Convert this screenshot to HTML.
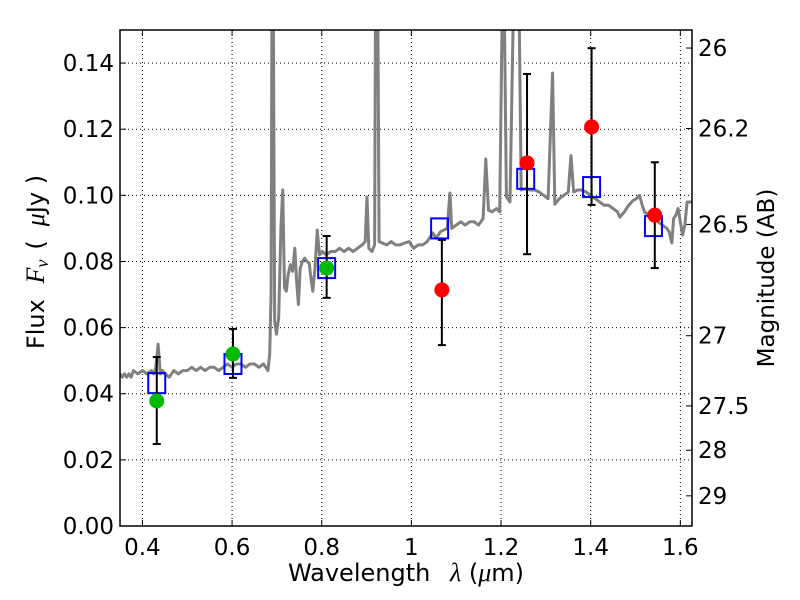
<!DOCTYPE html>
<html><head><meta charset="utf-8"><style>
body{margin:0;background:#fff}
svg{display:block;font-family:"DejaVu Sans","Liberation Sans",sans-serif}
</style></head><body>
<svg id="c" width="800" height="600">
<defs><clipPath id="clip"><rect x="120" y="30" width="572" height="496"/></clipPath></defs>
</svg>
<script>
const specWave=[
0.35,0.355,0.36,0.365,0.37,0.375,0.38,0.39,0.40,0.41,
0.42,0.425,0.43,0.435,0.44,0.445,0.45,0.46,0.47,0.48,
0.49,0.50,0.51,0.52,0.53,0.54,0.55,0.56,0.57,0.58,
0.59,0.60,0.61,0.62,0.63,0.64,0.65,0.66,0.67,0.675,
0.680,0.684,0.687,0.689,0.692,0.695,0.699,0.704,0.709,0.713,
0.717,0.721,0.725,0.730,0.735,0.740,0.744,0.748,0.752,0.757,
0.762,0.767,0.772,0.776,0.780,0.785,0.790,0.795,0.802,0.810,
0.820,0.830,0.840,0.850,0.860,0.870,0.880,0.890,0.897,0.901,
0.905,0.912,0.918,0.920,0.925,0.928,0.935,0.945,0.955,0.965,
0.975,0.985,0.995,1.005,1.015,1.025,1.035,1.048,1.055,1.065,
1.080,1.086,1.090,1.100,1.110,1.120,1.130,1.140,1.150,1.160,
1.166,1.172,1.180,1.190,1.197,1.203,1.207,1.212,1.220,1.228,
1.232,1.236,1.240,1.245,1.255,1.265,1.275,1.285,1.295,1.305,
1.315,1.320,1.330,1.340,1.350,1.356,1.362,1.370,1.380,1.390,
1.400,1.410,1.420,1.430,1.440,1.450,1.460,1.465,1.475,1.485,
1.495,1.502,1.509,1.515,1.520,1.530,1.540,1.550,1.560,1.570,
1.575,1.581,1.585,1.590,1.595,1.600,1.605,1.610,1.615,1.625,
1.635];
const specFlux=[
0.046,0.045,0.046,0.045,0.046,0.045,0.047,0.046,0.047,0.046,
0.047,0.046,0.048,0.055,0.046,0.047,0.046,0.045,0.047,0.046,
0.047,0.047,0.048,0.047,0.048,0.047,0.048,0.048,0.047,0.048,
0.049,0.048,0.049,0.049,0.048,0.049,0.049,0.048,0.049,0.048,
0.047,0.052,0.070,0.16,0.16,0.062,0.058,0.063,0.090,0.1016,
0.072,0.071,0.076,0.079,0.077,0.084,0.074,0.067,0.078,0.080,
0.081,0.080,0.0795,0.075,0.071,0.078,0.0895,0.082,0.083,0.082,
0.083,0.083,0.084,0.083,0.084,0.083,0.084,0.085,0.086,0.0995,
0.084,0.083,0.085,0.16,0.16,0.086,0.0856,0.085,0.086,0.085,
0.085,0.0856,0.086,0.084,0.085,0.085,0.086,0.0886,0.087,0.089,
0.090,0.1007,0.090,0.091,0.092,0.091,0.092,0.092,0.091,0.093,
0.111,0.0955,0.095,0.096,0.095,0.16,0.16,0.0995,0.098,0.16,
0.16,0.16,0.16,0.1016,0.102,0.1016,0.1016,0.101,0.100,0.099,
0.137,0.0973,0.099,0.100,0.101,0.112,0.101,0.1016,0.1016,0.101,
0.100,0.099,0.098,0.097,0.097,0.096,0.095,0.0934,0.095,0.097,
0.0985,0.099,0.100,0.097,0.095,0.094,0.093,0.092,0.091,0.090,
0.089,0.0856,0.093,0.094,0.096,0.092,0.088,0.091,0.098,0.098,
0.098];
const modelWave=[0.432,0.602,0.811,1.063,1.255,1.402,1.54];
const modelFlux=[0.0432,0.049,0.078,0.090,0.105,0.1025,0.0907];
const obsWave=[0.432,0.602,0.811,1.068,1.258,1.402,1.543];
const obsFlux=[0.0378,0.052,0.078,0.0714,0.1098,0.1207,0.094];
const obsHi=[0.0511,0.0596,0.0877,0.0865,0.1367,0.1445,0.110];
const obsLo=[0.0248,0.0448,0.069,0.0547,0.0822,0.0971,0.078];
const obsColor=['#00bb00','#00bb00','#00bb00','#ff0000','#ff0000','#ff0000','#ff0000'];
const xTicks=[0.4,0.6,0.8,1.0,1.2,1.4,1.6];
const xTickLabels=['0.4','0.6','0.8','1','1.2','1.4','1.6'];
const yTicks=[0,0.02,0.04,0.06,0.08,0.10,0.12,0.14];
const yTickLabels=['0.00','0.02','0.04','0.06','0.08','0.10','0.12','0.14'];
const magTicks=[26,26.2,26.5,27,27.5,28,29];
const magTickLabels=['26','26.2','26.5','27','27.5','28','29'];

const L=120,R=692,T=30,B=526,X0=0.35,X1=1.626,Y0=0,Y1=0.15;
const sx=v=>L+(v-X0)/(X1-X0)*(R-L);
const sy=v=>B-(v-Y0)/(Y1-Y0)*(B-T);
const svg=document.getElementById('c');
const NS='http://www.w3.org/2000/svg';
function mk(tag,attrs,parent){const e=document.createElementNS(NS,tag);for(const k in attrs)e.setAttribute(k,attrs[k]);(parent||svg).appendChild(e);return e;}

xTicks.forEach((t,i)=>{const x=sx(t);
 const g=mk('line',{x1:x,x2:x,y1:T,y2:B,stroke:'#000','stroke-dasharray':'1,3','stroke-width':1});
 
 
 mk('line',{x1:x,x2:x,y1:B,y2:B-6,stroke:'#000'});mk('line',{x1:x,x2:x,y1:T,y2:T+6,stroke:'#000'});
 const tx=mk('text',{x:x,y:B+29,'text-anchor':'middle','font-size':23});tx.textContent=xTickLabels[i];
 
 
});
yTicks.forEach((t,i)=>{const y=sy(t);
 const g=mk('line',{x1:L,x2:R,y1:y,y2:y,stroke:'#000','stroke-dasharray':'1,3','stroke-width':1});
 
 
 mk('line',{x1:L,x2:L+6,y1:y,y2:y,stroke:'#000'});
 const tx=mk('text',{x:L-6,y:y+8,'text-anchor':'end','font-size':23});tx.textContent=yTickLabels[i];
 
 
});
magTicks.forEach((m,i)=>{const f=Math.pow(10,(23.9-m)/2.5);const y=sy(f);
 mk('line',{x1:R,x2:R-6,y1:y,y2:y,stroke:'#000'});
 const tx=mk('text',{x:R+6,y:y+8,'font-size':23});tx.textContent=magTickLabels[i];
 
 
});

const gc=mk('g',{'clip-path':'url(#clip)'});
const n=Math.min(specWave.length,specFlux.length);
const pts=[];for(let i=0;i<n;i++)pts.push(sx(specWave[i])+','+sy(specFlux[i]));
const pl=mk('polyline',{points:pts.join(' '),fill:'none',stroke:'#808080','stroke-width':3,'stroke-linejoin':'round'},gc);



modelWave.forEach((w,i)=>{
 const r=mk('rect',{x:sx(w)-8.5,y:sy(modelFlux[i])-10,width:17,height:20,fill:'none',stroke:'#0000ff','stroke-width':2});
 
 
});
obsWave.forEach((w,i)=>{const x=sx(w);
 const g=mk('g',{stroke:'#000','stroke-width':2});
 
 
 mk('line',{x1:x,x2:x,y1:sy(obsHi[i]),y2:sy(obsLo[i])},g);
 mk('line',{x1:x-4,x2:x+4,y1:sy(obsHi[i]),y2:sy(obsHi[i])},g);
 mk('line',{x1:x-4,x2:x+4,y1:sy(obsLo[i]),y2:sy(obsLo[i])},g);
 const c=mk('circle',{cx:x,cy:sy(obsFlux[i]),r:7.5,fill:obsColor[i]});
 
 
});

const fr=mk('rect',{x:L,y:T,width:R-L,height:B-T,fill:'none',stroke:'#000','stroke-width':1.5});



const xl=mk('text',{x:406,y:581,'text-anchor':'middle','font-size':24});
xl.innerHTML='Wavelength <tspan dx="12" font-style="italic" font-family="Liberation Serif,serif" font-size="26">λ</tspan> (<tspan font-style="italic" font-family="Liberation Serif,serif" font-size="26">μ</tspan>m)';


const yl=mk('text',{x:0,y:0,'text-anchor':'middle','font-size':24,transform:'translate(44,262) rotate(-90)'});
yl.innerHTML='Flux <tspan dx="8" font-style="italic" font-family="Liberation Serif,serif" font-size="26">F</tspan><tspan font-style="italic" font-size="18" dy="4" font-family="Liberation Serif,serif">ν</tspan><tspan dy="-4" dx="10">(</tspan><tspan dx="14" font-style="italic" font-family="Liberation Serif,serif" font-size="26">μ</tspan>Jy )';


const ml=mk('text',{x:0,y:0,'text-anchor':'middle','font-size':23,transform:'translate(774,278) rotate(-90)'});
ml.textContent='Magnitude (AB)';


</script>
</body></html>
